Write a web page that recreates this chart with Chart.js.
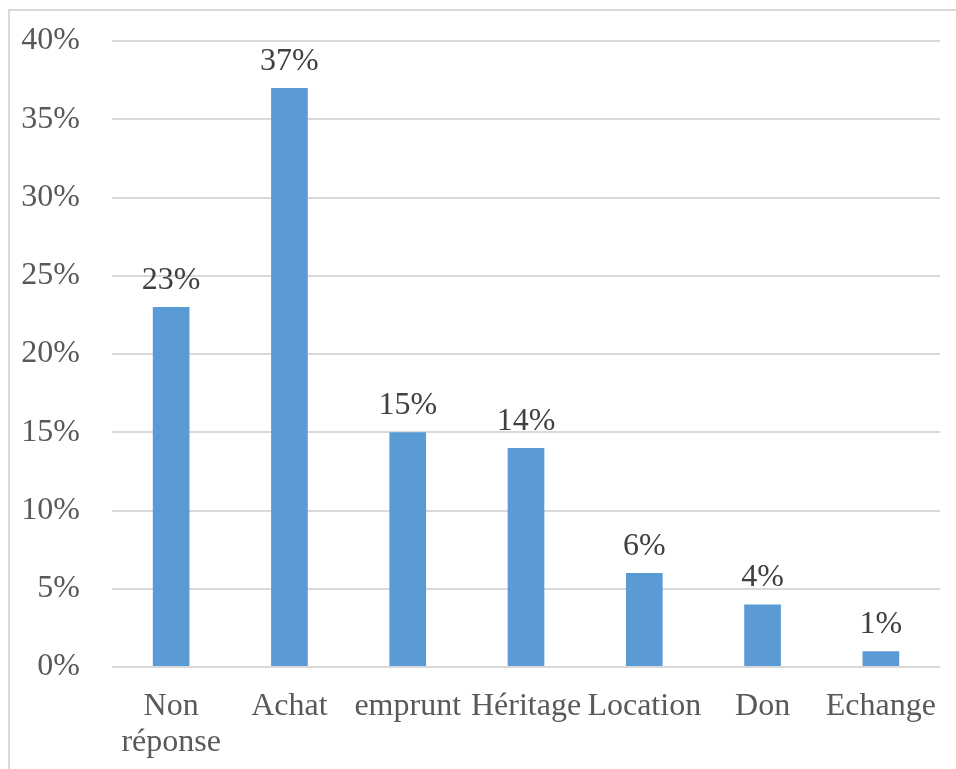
<!DOCTYPE html>
<html>
<head>
<meta charset="utf-8">
<script src="https://cdn.jsdelivr.net/npm/chart.js@4/dist/chart.umd.min.js"></script>
<style>
  html, body { margin: 0; padding: 0; background: #ffffff; }
  #wrap { width: 956px; height: 769px; }
</style>
</head>
<body>
<div id="wrap"><canvas id="chart" width="956" height="769"></canvas></div>
<script>
// modes d'acquisition, en % des réponses
const categories = [["Non", "réponse"], "Achat", "emprunt", "Héritage", "Location", "Don", "Echange"];
const percents = [23, 37, 15, 14, 6, 4, 1];
const yTicks = [0, 5, 10, 15, 20, 25, 30, 35, 40];

const serif = '"Liberation Serif", "Times New Roman", serif';

// cadre gris clair autour du graphique
const frame = {
    id: "frame",
    beforeDraw(chart) {
        const ctx = chart.ctx;
        ctx.save();
        ctx.strokeStyle = "#d9d9d9";
        ctx.lineWidth = 2;
        ctx.strokeRect(9, 10, chart.width + 20, chart.height + 20);
        ctx.restore();
    }
};

// étiquettes de valeur au-dessus des barres
const valueLabels = {
    id: "valueLabels",
    afterDatasetsDraw(chart) {
        const ctx = chart.ctx;
        const meta = chart.getDatasetMeta(0);
        ctx.save();
        ctx.font = "32px " + serif;
        ctx.fillStyle = "#404040";
        ctx.textAlign = "center";
        ctx.textBaseline = "alphabetic";
        meta.data.forEach((bar, i) => {
            ctx.fillText(percents[i] + "%", bar.x, bar.y - 18);
        });
        ctx.restore();
    }
};

new Chart(document.getElementById("chart"), {
    type: "bar",
    data: {
        labels: categories,
        datasets: [{
            data: percents,
            backgroundColor: "#5b9bd5",
            borderWidth: 0,
            categoryPercentage: 0.62,
            barPercentage: 0.5
        }]
    },
    options: {
        responsive: false,
        animation: false,
        layout: { padding: { left: 10, right: 16, top: 41, bottom: 0 } },
        plugins: {
            legend: { display: false },
            tooltip: { enabled: false }
        },
        scales: {
            x: {
                grid: { display: false },
                border: { display: false },
                ticks: {
                    color: "#595959",
                    font: { family: serif, size: 32, lineHeight: 1.12 },
                    padding: 14,
                    maxRotation: 0,
                    autoSkip: false
                },
                afterFit(scale) {
                    scale.height = 102;
                    scale.paddingLeft = 0;
                    scale.paddingRight = 0;
                }
            },
            y: {
                min: 0,
                max: 40,
                afterBuildTicks(scale) {
                    scale.ticks = yTicks.map(v => ({ value: v }));
                },
                grid: { color: "#d9d9d9", lineWidth: 2, drawTicks: false },
                border: { display: false },
                ticks: {
                    color: "#595959",
                    font: { family: serif, size: 32 },
                    padding: 32,
                    callback: v => v + "%"
                },
                afterFit(scale) {
                    scale.width = 102;
                    scale.paddingTop = 0;
                    scale.paddingBottom = 0;
                }
            }
        }
    },
    plugins: [frame, valueLabels]
});
</script>
</body>
</html>
